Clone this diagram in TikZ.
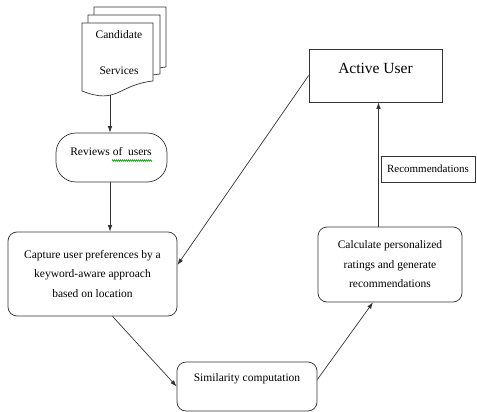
\documentclass[tikz,border=0pt]{standalone}
\usepackage{fontspec}
\setmainfont{Liberation Serif}
\usetikzlibrary{arrows.meta,calc,decorations.pathmorphing}
\begin{document}
\begin{tikzpicture}[x=1pt,y=-1pt,
  line/.style={draw=black!80,line width=0.7pt},
  arr/.style={line,-{Latex[length=6.5pt,width=4.5pt]}},
  box/.style={draw=black!80,line width=0.7pt,fill=white,inner sep=0pt,align=center,font=\fontsize{11.5}{19.5}\selectfont},
  txt/.style={inner sep=0pt,align=center,font=\fontsize{11.5}{19.5}\selectfont},
  docshape/.style={draw=black!80,line width=0.7pt,fill=white}]
\useasboundingbox (0,0) rectangle (477,412);
% document stack
\draw[docshape] (94,7) -- (166,7) -- (166,67) .. controls (130,71) and (130,91) .. (94,77) -- cycle;
\draw[docshape] (88,15) -- (160,15) -- (160,74) .. controls (124,78) and (124,98) .. (88,84) -- cycle;
\draw[docshape] (82,23) -- (153,23) -- (153,81) .. controls (117.5,85) and (117.5,105) .. (82,91) -- cycle;
\node[txt] (cand) at (119,35) {Candidate};
\node[txt] (serv) at (119,71) {Services};
\coordinate (docb) at (110,95);
% reviews
\node[box,rounded corners=20pt,minimum width=111pt,minimum height=49pt] (rev) at (111.5,157.5) {};
\node[txt] (revt) at (111,152) {Reviews of\ \ users};
\draw[green!60!black,line width=0.5pt,decorate,decoration={zigzag,segment length=2pt,amplitude=0.8pt}] (112,160.5) -- (152,160.5);
% capture
\node[box,rounded corners=9pt,minimum width=169pt,minimum height=84pt] (cap) at (92.5,274) {Capture user preferences by a\\keyword-aware approach\\based on location};
% active user
\node[box,minimum width=133pt,minimum height=53pt] (au) at (375.5,75.5) {};
\node[txt,font=\fontsize{15.5}{18}\selectfont] (aut) at (375.5,68) {Active User};
% recommendations label box
\node[box,font=\fontsize{11}{13}\selectfont,minimum width=94pt,minimum height=26pt] (rec) at (428,169) {Recommendations};
% calculate
\node[box,rounded corners=9pt,minimum width=144pt,minimum height=75pt] (calc) at (390,264.5) {Calculate personalized\\ratings and generate\\recommendations};
% similarity
\node[box,rounded corners=9pt,minimum width=140pt,minimum height=49pt] (sim) at (247,386.5) {};
\node[txt] (simt) at (247,379) {Similarity computation};
% connectors
\draw[arr] (docb) -- (docb |- rev.north);
\draw[arr] ([xshift=-1.5pt]rev.south) -- ([xshift=-1.5pt]rev.south |- cap.north);
\draw[arr] (au.west) -- ([yshift=9pt]cap.east);
\draw[arr] ([xshift=20pt]cap.south) -- (sim.west);
\draw[arr] ([yshift=7pt]sim.east) -- ([xshift=-17pt]calc.south);
\draw[arr] ([xshift=3pt]au.south |- calc.north) -- ([xshift=3pt]au.south);
\end{tikzpicture}
\end{document}
